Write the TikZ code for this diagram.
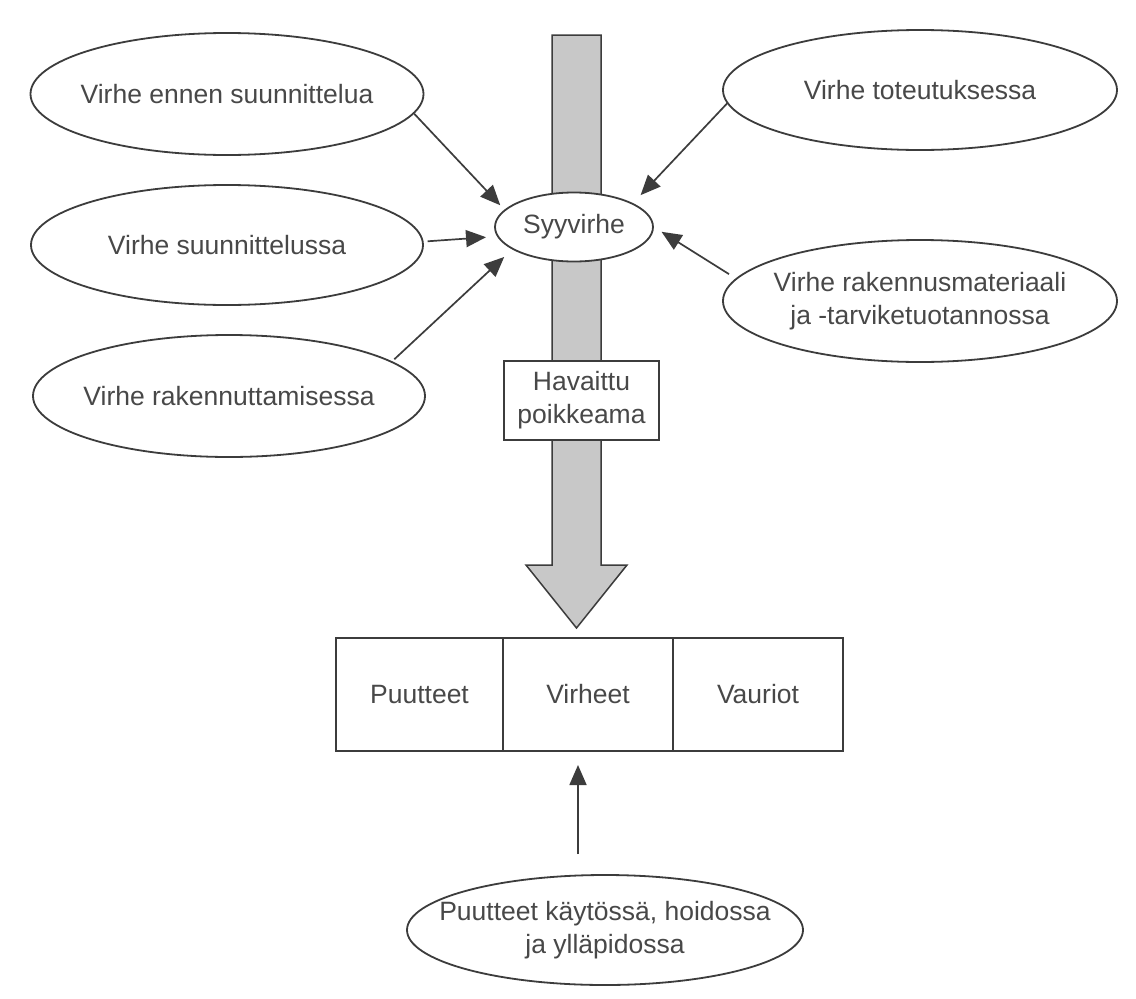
\documentclass[tikz,border=0pt]{standalone}
\usepackage{fontspec}
\setmainfont{Liberation Sans}
\usetikzlibrary{arrows.meta,shapes.geometric}
\definecolor{ink}{RGB}{60,60,60}
\definecolor{txt}{RGB}{72,72,72}
\definecolor{barfill}{RGB}{200,200,200}
\begin{document}
\begin{tikzpicture}[x=1pt,y=-1pt,
  every node/.style={font=\fontsize{26.5}{33}\selectfont, text=txt},
  oval/.style={ellipse, draw=ink, line width=1.8pt, fill=white, inner sep=0pt},
  lbl/.style={align=center, inner sep=0pt},
  boxn/.style={rectangle, draw=ink, line width=1.8pt, fill=white, inner sep=0pt, align=center},
  arr/.style={draw=ink, line width=1.7pt, -{Triangle[length=20pt,width=17pt]}}]
\fill[white] (0,0) rectangle (1136,999);
\useasboundingbox (0,0) rectangle (1136,999);
% big grey arrow
\filldraw[fill=barfill, draw=ink, line width=1.5pt]
  (552,35) -- (601,35) -- (601,565) -- (627,565) -- (576.5,628) -- (526,565) -- (552,565) -- cycle;
% ovals
\node[oval, minimum width=393pt, minimum height=122pt, label={[lbl]center:Virhe ennen suunnittelua}] (e1) at (227,94) {};
\node[oval, minimum width=392pt, minimum height=120pt, label={[lbl]center:Virhe suunnittelussa}] (e2) at (227,245) {};
\node[oval, minimum width=392pt, minimum height=122pt, label={[lbl]center:Virhe rakennuttamisessa}] (e3) at (229,396) {};
\node[oval, minimum width=394pt, minimum height=120pt, label={[lbl]center:Virhe toteutuksessa}] (r1) at (920,90) {};
\node[oval, minimum width=394pt, minimum height=122pt, label={[lbl]center:{Virhe rakennusmateriaali\\ja -tarviketuotannossa}}] (r2) at (920,301) {};
\node[oval, minimum width=158pt, minimum height=69pt, label={[lbl]center:Syyvirhe}] (syy) at (574,227) {};
\node[boxn, minimum width=155pt, minimum height=79pt] (hav) at (581.5,400.5) {Havaittu\\poikkeama};
% table
\node[boxn, minimum width=167pt, minimum height=113pt] (t1) at (419.5,694.5) {Puutteet};
\node[boxn, minimum width=170pt, minimum height=113pt] (t2) at (588,694.5) {Virheet};
\node[boxn, minimum width=170pt, minimum height=113pt] (t3) at (758,694.5) {Vauriot};
\node[oval, minimum width=396pt, minimum height=110pt, label={[lbl]center:{Puutteet käytössä, hoidossa\\ja ylläpidossa}}] (bot) at (605,930) {};
\coordinate (ua) at (578,751);
% connectors
\draw[arr, shorten >=6pt] (e1.-6) -- (syy.166);
\draw[arr, shorten <=4pt, shorten >=11pt] (e2.1) -- (syy.187);
\draw[arr, shorten <=3pt, shorten >=11pt] (e3.12) -- (syy.200);
\draw[arr, shorten >=11pt] (r1.184) -- (syy.22);
\draw[arr, shorten <=8pt, shorten >=9pt] (r2.173) -- (syy.east);
\draw[arr, shorten <=20pt, shorten >=14pt] (bot.north -| ua) -- (ua);
\end{tikzpicture}
\end{document}
